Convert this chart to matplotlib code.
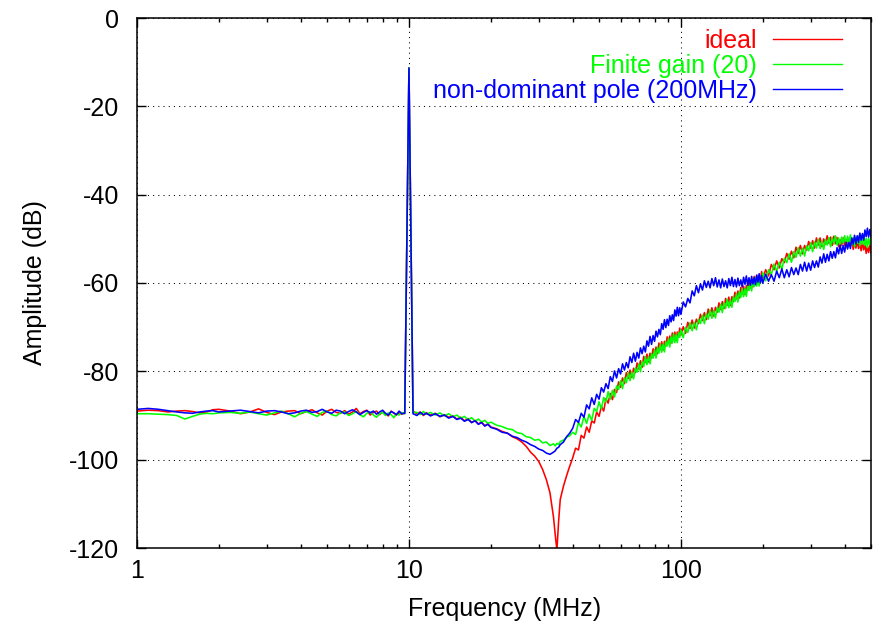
import matplotlib
matplotlib.use("Agg")
import matplotlib.pyplot as plt
from matplotlib.ticker import NullFormatter, FixedLocator

plt.rcParams['font.family'] = ['Liberation Sans', 'DejaVu Sans']
plt.rcParams['axes.unicode_minus'] = False

## DATA ##

# Frequency points [MHz]
freq = [
    1.0, 1.1, 1.2, 1.3, 1.4, 1.5, 1.6, 1.7, 1.8, 1.9, 2.0, 2.2, 2.4, 2.6, 2.8, 3.0, 3.2,
    3.4, 3.6, 3.8, 4.0, 4.2, 4.4, 4.6, 4.8, 5.0, 5.2, 5.4, 5.6, 5.8, 6.0, 6.2, 6.4, 6.6,
    6.8, 7.0, 7.2, 7.4, 7.6, 7.8, 8.0, 8.2, 8.4, 8.6, 8.8, 9.0, 9.2, 9.4, 9.65,
    10.0, 10.35,
    10.7, 11.0, 11.3, 11.6, 12.0, 12.5, 13, 13.5, 14, 14.5, 15, 15.5, 16, 16.5, 17, 17.5,
    18, 18.5, 19, 19.5, 20, 21, 22, 23, 24, 25, 26, 27, 28, 29, 30, 31, 32, 33, 34, 34.5,
    35, 35.5, 36, 37, 38, 39, 40,
    41, 42, 43, 44, 45, 46, 47, 48, 49, 50, 51, 52, 53, 54, 55, 56, 57, 58, 59, 60,
    61, 62, 63, 64, 65, 66, 67, 68, 69, 70, 71, 72, 73, 74, 75, 76, 77, 78, 79, 80,
    81, 82, 83, 84, 85, 86, 87, 88, 89, 90, 91, 92, 93, 94, 95, 96, 97, 98, 99, 100,
    102, 104, 106, 108, 110, 112, 114, 116, 118, 120, 122, 124, 126, 128, 130, 132, 134,
    136, 138, 140, 142, 144, 146, 148, 150, 152, 154, 156, 158, 160, 162, 164, 166, 168,
    170, 172, 174, 176, 178, 180, 182, 184, 186, 188, 190, 192, 194, 196, 198, 200,
    205, 210, 215, 220, 225, 230, 235, 240, 245, 250, 255, 260, 265, 270, 275, 280, 285,
    290, 295, 300, 305, 310, 315, 320, 325, 330, 335, 340, 345, 350, 355, 360, 365, 370,
    375, 380, 385, 390, 395, 400, 405, 410, 415, 420, 425, 430, 435, 440, 445, 450, 455,
    460, 465, 470, 475, 480, 485, 490, 495, 500]

# Amplitude, ideal [dB]
ideal = [
    -89.0, -88.8, -88.9, -89.2, -89.0, -88.9, -89.1, -89.4, -89.2, -88.7, -88.6, -89.0,
    -89.6, -89.2, -88.5, -89.3, -89.8, -89.2, -89.0, -88.9, -89.6, -89.1, -88.7, -89.4,
    -89.9, -89.0, -88.6, -89.3, -89.5, -88.9, -89.7, -89.2, -88.4, -89.6, -89.1, -88.8,
    -89.9, -89.3, -89.0, -89.8, -89.2, -89.6, -90.1, -89.0, -89.5, -89.9, -89.3, -89.7,
    -89.4,
    -11.3, -89.0,
    -89.6, -89.2, -90.0, -89.4, -89.9, -89.5, -90.3, -89.8, -90.4, -90.1, -90.8, -90.4,
    -91.2, -90.7, -91.6, -91.1, -91.9, -91.5, -92.3, -91.9, -92.6, -93.0, -93.6, -94.0,
    -94.8, -95.3, -96.0, -97.0, -98.3, -99.2, -100.4, -102.2, -104.5, -107.5, -113.0,
    -117.0, -120.5, -114.0, -109.0, -106.0, -103.6, -101.5, -99.6,
    -97.4, -97.8, -94.5, -95.1, -92.6, -93.8, -91.2, -91.7, -89.2, -90.2,
    -87.9, -89.0, -86.2, -87.2, -85.0, -86.4, -84.1, -84.8, -82.4, -83.6,
    -81.5, -82.8, -80.3, -81.6, -79.7, -81.4, -79.3, -80.3, -78.1, -79.5,
    -77.6, -79.1, -76.6, -78.0, -76.1, -77.9, -75.9, -77.0, -74.9, -76.3,
    -74.5, -76.0, -73.6, -75.1, -73.3, -75.2, -73.2, -74.3, -72.2, -73.7,
    -72.0, -73.6, -71.3, -72.8, -71.1, -73.0, -71.1, -72.2, -70.2, -71.8,
    -69.9, -71.4, -68.9, -70.3, -68.4, -70.2, -68.2, -69.2, -67.1, -68.5,
    -66.7, -68.3, -65.9, -67.4, -65.6, -67.5, -65.5, -66.6, -64.5, -66.0,
    -64.2, -65.8, -63.5, -65.0, -63.2, -65.1, -63.1, -64.2, -62.1, -63.6,
    -61.8, -63.4, -61.0, -62.5, -60.7, -62.6, -60.6, -61.7, -59.6, -61.1,
    -59.3, -60.9, -58.5, -60.0, -58.3, -60.2, -58.3, -59.4, -57.4, -58.9,
    -57.0, -58.4, -55.8, -57.0, -55.0, -56.6, -54.5, -55.4, -53.3, -54.6,
    -52.8, -54.3, -51.9, -53.3, -51.5, -53.4, -51.5, -52.6, -50.6, -52.1,
    -50.4, -52.1, -49.8, -51.4, -49.8, -51.8, -50.0, -51.2, -49.3, -51.0,
    -49.6, -51.5, -49.4, -51.1, -49.7, -51.8, -50.2, -51.5, -49.8, -51.5,
    -50.1, -51.9, -49.9, -51.6, -50.2, -52.4, -50.8, -52.1, -50.4, -52.2,
    -50.8, -52.7, -50.7, -52.5, -51.1, -53.3, -51.7, -53.1, -51.4, -53.2]

# Amplitude, finite gain (20) [dB]
finite_gain = [
    -89.6, -89.6, -89.7, -89.8, -90.0, -90.8, -90.2, -89.7, -89.5, -89.6, -89.4, -89.3,
    -89.5, -89.2, -89.6, -89.9, -89.4, -89.0, -89.6, -90.3, -89.5, -89.1, -89.7, -90.2,
    -89.3, -89.0, -89.8, -90.1, -89.4, -89.2, -90.0, -89.6, -89.1, -89.8, -90.3, -89.5,
    -89.2, -89.9, -90.4, -89.6, -89.3, -90.0, -89.4, -89.8, -90.5, -89.6, -89.9, -89.3,
    -89.6,
    -11.3, -89.3,
    -89.3, -89.8, -89.1, -89.7, -89.3, -89.9, -89.4, -90.1, -89.6, -90.3, -89.9, -90.6,
    -90.2, -91.0, -90.5, -91.3, -90.8, -91.5, -91.1, -91.8, -91.5, -92.2, -92.5, -93.0,
    -93.2, -93.9, -94.1, -94.8, -95.0, -95.6, -95.4, -96.2, -96.0, -96.8, -96.4, -96.9,
    -96.3, -96.6, -95.9, -95.6, -94.9, -94.6, -93.8,
    -94.3, -91.6, -92.6, -90.2, -91.8, -89.7, -91.1, -88.4, -89.1, -86.9,
    -88.5, -85.9, -87.0, -84.6, -86.3, -84.3, -85.8, -83.3, -84.1, -82.1,
    -83.9, -81.4, -82.6, -80.3, -82.1, -80.1, -81.7, -79.3, -80.2, -78.3,
    -80.1, -77.7, -78.9, -76.7, -78.5, -76.6, -78.3, -76.0, -77.0, -75.1,
    -77.0, -74.6, -75.9, -73.8, -75.7, -73.9, -75.6, -73.3, -74.3, -72.5,
    -74.5, -72.2, -73.6, -71.5, -73.5, -71.7, -73.5, -71.2, -72.3, -70.6,
    -72.4, -70.0, -71.2, -69.0, -70.8, -68.9, -70.6, -68.2, -69.2, -67.3,
    -69.2, -66.9, -68.2, -66.1, -68.0, -66.2, -67.9, -65.6, -66.6, -64.8,
    -66.7, -64.4, -65.8, -63.7, -65.6, -63.8, -65.5, -63.2, -64.2, -62.4,
    -64.3, -62.0, -63.3, -61.2, -63.1, -61.3, -63.0, -60.7, -61.7, -59.9,
    -61.8, -59.5, -60.8, -58.7, -60.7, -58.9, -60.7, -58.4, -59.5, -57.7,
    -59.5, -57.0, -58.1, -55.7, -57.4, -55.3, -56.9, -54.4, -55.4, -53.4,
    -55.3, -52.9, -54.2, -52.0, -53.9, -52.1, -53.9, -51.6, -52.7, -50.9,
    -52.9, -50.7, -52.1, -50.1, -52.2, -50.5, -52.4, -50.2, -51.4, -49.7,
    -51.8, -49.7, -51.2, -49.3, -51.4, -49.8, -51.7, -49.6, -50.9, -49.3,
    -51.5, -49.4, -51.0, -49.1, -51.4, -49.8, -51.8, -49.7, -51.0, -49.4,
    -51.6, -49.5, -51.2, -49.3, -51.5, -49.9, -52.0, -49.9, -51.3, -49.7]

# Amplitude, non-dominant pole (200MHz) [dB]
nondom_pole = [
    -88.6, -88.4, -88.6, -88.9, -89.2, -89.4, -89.5, -89.2, -89.0, -88.9, -89.2, -89.0,
    -88.8, -89.1, -89.4, -89.0, -88.9, -89.2, -89.6, -89.4, -89.0, -88.8, -89.3, -89.1,
    -88.6, -89.2, -89.5, -88.8, -89.0, -89.6, -89.1, -88.7, -89.2, -89.8, -89.3, -88.9,
    -89.4, -89.0, -89.7, -89.2, -88.8, -89.5, -89.9, -89.1, -89.4, -89.8, -89.0, -89.6,
    -89.5,
    -11.3, -89.6,
    -90.0, -89.3, -89.8, -89.5, -90.1, -89.6, -90.2, -89.9, -90.6, -90.2, -90.9, -90.6,
    -91.3, -90.9, -91.6, -91.2, -92.0, -91.6, -92.4, -92.0, -92.7, -93.1, -93.8, -94.0,
    -94.7, -95.0, -95.6, -96.0, -96.6, -97.0, -97.6, -97.9, -98.5, -98.8, -98.3, -98.0,
    -97.4, -97.2, -96.6, -96.0, -94.8, -94.0, -92.9,
    -90.9, -91.6, -89.5, -90.4, -87.6, -88.5, -86.0, -87.5, -85.2, -86.3,
    -83.7, -84.7, -82.8, -83.9, -81.2, -82.3, -79.9, -81.5, -79.4, -80.6,
    -78.3, -79.7, -78.0, -79.2, -76.7, -78.0, -75.9, -77.7, -75.7, -77.0,
    -74.7, -76.0, -74.3, -75.6, -73.1, -74.3, -72.1, -73.9, -71.9, -73.2,
    -70.9, -72.2, -70.5, -71.7, -69.2, -70.5, -68.3, -70.1, -68.2, -69.6,
    -67.4, -68.8, -67.2, -68.5, -66.1, -67.5, -65.5, -67.4, -65.6, -67.1,
    -64.3, -65.4, -63.5, -64.5, -61.8, -62.9, -60.6, -62.2, -60.2, -61.6,
    -59.5, -61.0, -59.6, -61.1, -59.0, -60.6, -58.8, -60.9, -59.3, -61.1,
    -59.1, -60.8, -59.5, -61.1, -59.0, -60.6, -58.7, -60.8, -59.2, -60.9,
    -58.9, -60.6, -59.3, -60.9, -58.7, -60.3, -58.4, -60.5, -58.8, -60.5,
    -58.5, -60.2, -58.8, -60.4, -58.2, -59.8, -57.9, -60.0, -58.3, -60.0,
    -58.0, -59.6, -58.1, -59.6, -57.3, -58.8, -56.8, -58.8, -57.0, -58.6,
    -56.5, -58.1, -56.6, -58.1, -55.8, -57.3, -55.3, -57.3, -55.5, -57.1,
    -55.0, -56.5, -55.0, -56.4, -54.1, -55.5, -53.4, -55.3, -53.5, -55.0,
    -52.9, -54.4, -52.9, -54.3, -52.0, -53.4, -51.4, -53.3, -51.5, -53.0,
    -50.8, -52.3, -50.8, -52.2, -49.8, -51.2, -49.2, -51.1, -49.3, -50.8,
    -48.7, -50.3, -48.8, -50.3, -48.0, -49.5, -47.6, -49.6, -47.9, -49.5]

labels = ["ideal", "Finite gain (20)", "non-dominant pole (200MHz)"]
colors = ["#ff0000", "#00ff00", "#0000ff"]

## PLOT ##

fs = 18

fig = plt.figure(figsize=(8.75, 6.27), dpi=100)
ax = fig.add_axes([137/875, 1 - 548/627, 734/875, 530/627])

for y, lab, c in zip([ideal, finite_gain, nondom_pole], labels, colors):
    ax.plot(freq, y, color=c, lw=1.15, label=lab)

ax.set_xscale('log')
ax.set_xlim(1, 500)
ax.set_ylim(-120, 0)
ax.xaxis.set_major_locator(FixedLocator([1, 10, 100]))
ax.set_xticklabels(["1", "10", "100"])
ax.xaxis.set_minor_formatter(NullFormatter())
ax.set_yticks(range(-120, 1, 20))

ax.tick_params(which='both', direction='in', top=True, right=True, labelsize=fs)
ax.tick_params(which='major', length=6.5, width=1)
ax.tick_params(which='minor', length=3.2, width=1)
ax.tick_params(axis='x', pad=8)
ax.tick_params(axis='y', pad=13)
for s in ax.spines.values():
    s.set_linewidth(1.1)

ax.grid(True, which='major', color='black', linestyle=(0, (1, 4)), linewidth=0.75)
ax.set_axisbelow(True)

ax.set_xlabel("Frequency (MHz)", fontsize=fs)
ax.set_ylabel("Amplitude (dB)", fontsize=fs)
ax.xaxis.set_label_coords(0.501, -0.092)
ax.yaxis.set_label_coords(-0.122, 0.5)

leg = ax.legend(loc='upper right', bbox_to_anchor=(0.9605, 0.98), frameon=False,
                markerfirst=False, fontsize=fs, handlelength=2.76, handletextpad=0.64,
                labelspacing=0.05, borderpad=0, borderaxespad=0, labelcolor='linecolor')
for h in leg.get_lines():
    h.set_linewidth(1.0)

fig.savefig("out.png", dpi=100)
